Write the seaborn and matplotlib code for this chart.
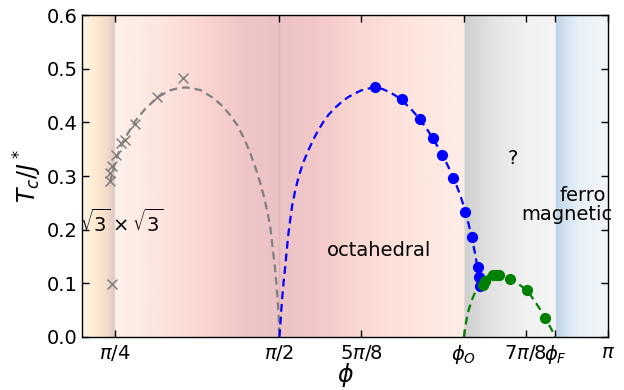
import numpy as np
import pandas as pd
import matplotlib
matplotlib.use("Agg")
import matplotlib.pyplot as plt
import seaborn as sns
from matplotlib.colors import to_rgb

# ---------------- data ----------------
PHI_O = 2.453
PHI_F = 2.890

# gray crosses (sqrt3 x sqrt3 phase)
cross_phi = [0.761, 0.761, 0.772, 0.791, 0.817, 0.834, 0.882, 0.989, 1.112, 0.771]
cross_tc = [0.291, 0.306, 0.319, 0.339, 0.362, 0.368, 0.397, 0.448, 0.483, 0.099]

# gray dashed fit curve
gfit_phi = [0.761, 0.790, 0.823, 0.880, 0.930, 0.990, 1.052, 1.090, 1.128, 1.160,
            1.195, 1.257, 1.300, 1.337, 1.370, 1.400, 1.430, 1.460, 1.480, 1.500,
            1.515, 1.528, 1.540, 1.550, 1.558, 1.564, 1.568, 1.5708]
gfit_tc = [0.287, 0.330, 0.363, 0.401, 0.425, 0.447, 0.460, 0.464, 0.465, 0.463,
           0.460, 0.445, 0.430, 0.413, 0.395, 0.372, 0.345, 0.312, 0.287, 0.258,
           0.232, 0.205, 0.163, 0.130, 0.095, 0.065, 0.035, 0.0]

# blue dots (octahedral phase)
blue_phi = [2.030, 2.155, 2.241, 2.303, 2.350, 2.403, 2.460, 2.491, 2.520, 2.523, 2.528]
blue_tc = [0.465, 0.443, 0.406, 0.371, 0.339, 0.296, 0.232, 0.186, 0.130, 0.112, 0.095]

# blue dashed fit curve
bfit_phi = [1.5715, 1.578, 1.584, 1.591, 1.599, 1.607, 1.615, 1.624, 1.633, 1.647,
            1.663, 1.685, 1.710, 1.735, 1.758, 1.782, 1.806, 1.837, 1.869, 1.900,
            1.933, 1.965, 1.996, 2.033, 2.065, 2.099, 2.130, 2.156, 2.200, 2.242,
            2.275, 2.304, 2.330, 2.351, 2.380, 2.404, 2.435, 2.461, 2.477, 2.490,
            2.505, 2.518, 2.530]
bfit_tc = [0.0, 0.035, 0.069, 0.100, 0.130, 0.163, 0.194, 0.221, 0.246, 0.273,
           0.298, 0.325, 0.348, 0.369, 0.386, 0.401, 0.414, 0.427, 0.438, 0.447,
           0.454, 0.460, 0.463, 0.465, 0.462, 0.456, 0.449, 0.441, 0.425, 0.406,
           0.388, 0.371, 0.353, 0.339, 0.316, 0.296, 0.265, 0.233, 0.208, 0.186,
           0.158, 0.130, 0.089]

# green dots (? phase)
green_phi = [2.542, 2.556, 2.590, 2.609, 2.623, 2.671, 2.754, 2.841]
green_tc = [0.097, 0.105, 0.115, 0.116, 0.116, 0.108, 0.087, 0.035]

# green dashed fit curve
grfit_phi = [2.453, 2.458, 2.464, 2.471, 2.480, 2.491, 2.504, 2.520, 2.536, 2.551,
             2.567, 2.587, 2.607, 2.635, 2.663, 2.690, 2.710, 2.730, 2.750, 2.775,
             2.798, 2.818, 2.837, 2.862, 2.885, 2.888]
grfit_tc = [0.0, 0.015, 0.029, 0.043, 0.056, 0.069, 0.081, 0.093, 0.103, 0.109,
            0.114, 0.116, 0.117, 0.114, 0.109, 0.104, 0.100, 0.094, 0.088, 0.076,
            0.063, 0.051, 0.038, 0.021, 0.004, 0.0]

xtick_pos = [np.pi / 4, np.pi / 2, 5 * np.pi / 8, PHI_O, 7 * np.pi / 8, PHI_F, np.pi]
xtick_lab = [r"$\pi/4$", r"$\pi/2$", r"$5\pi/8$", r"$\phi_O$", r"$7\pi/8$", r"$\phi_F$", r"$\pi$"]
ytick_pos = [0.0, 0.1, 0.2, 0.3, 0.4, 0.5, 0.6]
ytick_lab = ["0.0", "0.1", "0.2", "0.3", "0.4", "0.5", "0.6"]

XMIN, XMAX = 0.2 * np.pi, np.pi
YMIN, YMAX = 0.0, 0.6

# ---------------- style ----------------
sns.set_style("ticks")
plt.rcParams["font.family"] = ["DejaVu Sans"]
plt.rcParams["mathtext.fontset"] = "dejavusans"
plt.rcParams["text.color"] = "black"
plt.rcParams["axes.labelcolor"] = "black"
plt.rcParams["xtick.color"] = "black"
plt.rcParams["ytick.color"] = "black"
plt.rcParams["axes.edgecolor"] = "black"

fig = plt.figure(figsize=(6.24, 3.90), dpi=100)
ax = fig.add_axes([0.1314, 0.1359, 0.9744 - 0.1314, 0.9615 - 0.1359])

# background gradient (phase regions)
stops = [
    (XMIN, "#fef7e4"), (0.70, "#fde9cf"), (0.745, "#f5dccb"), (np.pi / 4 - 0.001, "#dcc8c2"),
    (np.pi / 4, "#fdf0ea"), (1.00, "#fde6df"), (1.20, "#fbd6d1"), (1.40, "#efc6c8"),
    (np.pi / 2, "#ebc2c5"), (1.75, "#f3c8c9"), (1.95, "#fbd8d2"), (2.20, "#fde5dd"),
    (PHI_O - 0.001, "#fdede7"),
    (PHI_O, "#cfcfcf"), (2.60, "#e5e5e5"), (2.75, "#f1f1f1"), (PHI_F - 0.001, "#f5f5f5"),
    (PHI_F, "#bdd4e7"), (2.95, "#d8e6f1"), (3.00, "#e9f1f8"), (XMAX, "#f1f6fa"),
]
sx = np.array([s[0] for s in stops])
sc = np.array([to_rgb(s[1]) for s in stops])
gx = np.linspace(XMIN, XMAX, 1200)
img = np.stack([np.interp(gx, sx, sc[:, k]) for k in range(3)], axis=-1)[None, :, :]
ax.imshow(img, extent=[XMIN, XMAX, YMIN, YMAX], aspect="auto", origin="lower",
          interpolation="bilinear", zorder=0)
ax.axvline(np.pi / 2, color="#e6b3b5", lw=1.0, zorder=0.5)

# fit curves
dash = (3.5, 2.2)
for px, py, col in [(gfit_phi, gfit_tc, "#808080"), (bfit_phi, bfit_tc, "blue"),
                    (grfit_phi, grfit_tc, "green")]:
    sns.lineplot(x=px, y=py, sort=False, color=col, lw=1.6, ax=ax, zorder=2,
                 estimator=None, dashes=False, linestyle=(0, dash))

# points
sns.scatterplot(x=cross_phi, y=cross_tc, marker="x", s=50, color="#808080",
                linewidth=1.1, ax=ax, zorder=3)
sns.scatterplot(x=blue_phi, y=blue_tc, marker="o", s=65, color="blue",
                edgecolor="blue", linewidth=0, ax=ax, zorder=3)
sns.scatterplot(x=green_phi, y=green_tc, marker="o", s=65, color="green",
                edgecolor="green", linewidth=0, ax=ax, zorder=3)

ax.set_xlim(XMIN, XMAX)
ax.set_ylim(YMIN, YMAX)
ax.set_xticks(xtick_pos)
ax.set_xticklabels(xtick_lab, fontsize=14)
ax.set_yticks(ytick_pos)
ax.set_yticklabels(ytick_lab, fontsize=14)
ax.tick_params(direction="in", top=True, right=True, length=5, width=1)
ax.tick_params(axis="y", pad=3)
ax.tick_params(axis="x", pad=4)
for sp in ax.spines.values():
    sp.set_visible(True)
    sp.set_linewidth(1.0)
    sp.set_color("black")
ax.set_xlabel(r"$\phi$", fontsize=17, labelpad=-3)
ax.set_ylabel(r"$T_c/J^*$", fontsize=17, labelpad=2)

# annotations
ax.text(0.618, 0.214, r"$\sqrt{3}\times\sqrt{3}$", fontsize=14, ha="left", va="center", zorder=4)
ax.text(2.047, 0.162, "octahedral", fontsize=14, ha="center", va="center", zorder=4)
ax.text(2.687, 0.333, "?", fontsize=14, ha="center", va="center", zorder=4)
ax.text(3.131, 0.263, "ferro", fontsize=14, ha="right", va="center", zorder=4)
ax.text(3.165, 0.229, "magnetic", fontsize=14, ha="right", va="center", zorder=4,
        clip_on=False)

fig.savefig("out.png", dpi=100)
